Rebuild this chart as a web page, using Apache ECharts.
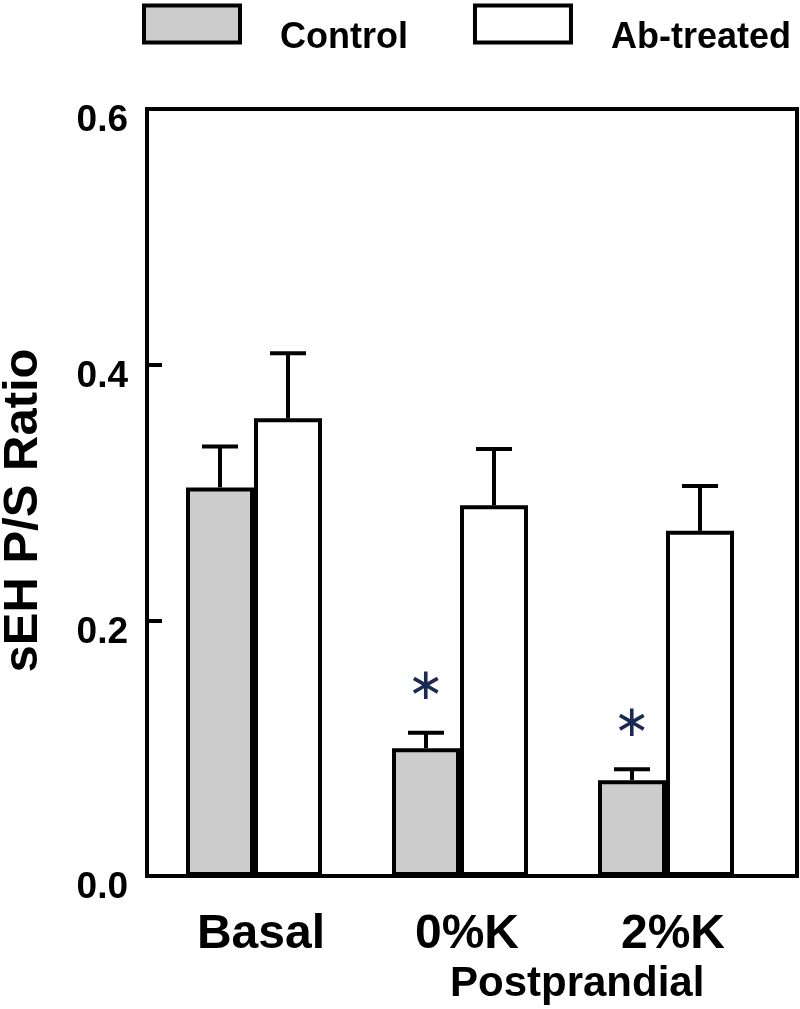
<!DOCTYPE html>
<html>
<head>
<meta charset="utf-8">
<script src="https://cdn.jsdelivr.net/npm/echarts@6/dist/echarts.min.js"></script>
<style>
html,body{margin:0;padding:0;background:#fff;}
#chart{width:800px;height:1009px;}
</style>
</head>
<body>
<div id="chart"></div>
<script>
// values
var categories = ['Basal', '0%K', '2%K'];
var controlMean = [0.304, 0.100, 0.075];
var controlErr = [0.032, 0.012, 0.0085];
var abMean = [0.358, 0.290, 0.270];
var abErr = [0.051, 0.044, 0.035];
var controlSig = [false, true, true];

var BAR_W = 68;
var CAP_W = 36;
var FONT = '"Liberation Sans", Arial, Helvetica, sans-serif';

function errorSeries(mean, err, side, sig) {
  return {
    type: 'custom',
    xAxisIndex: 1,
    yAxisIndex: 1,
    z: 5,
    silent: true,
    data: mean.map(function (v, i) {
      return [i, v, v + err[i], sig && sig[i] ? 1 : 0];
    }),
    renderItem: function (params, api) {
      var base = api.coord([api.value(0), api.value(1)]);
      var top = api.coord([api.value(0), api.value(2)]);
      var x = base[0] + side * BAR_W / 2;
      var ls = {stroke: '#000', lineWidth: 4};
      var kids = [
        {type: 'line', shape: {x1: x, y1: base[1], x2: x, y2: top[1]}, style: ls},
        {type: 'line', shape: {x1: x - CAP_W / 2, y1: top[1], x2: x + CAP_W / 2, y2: top[1]}, style: ls}
      ];
      if (api.value(3)) {
        kids.push({
          type: 'text', x: x, y: top[1] - 45,
          style: {text: '\u2217', fill: '#1b2a55', font: '44px "DejaVu Sans"', align: 'center', verticalAlign: 'middle'}
        });
      }
      return {type: 'group', children: kids};
    }
  };
}

var chart = echarts.init(document.getElementById('chart'));
var option = {
  animation: false,
  backgroundColor: '#fff',
  legend: {
    left: 142,
    top: -8,
    padding: 0,
    itemWidth: 96,
    itemHeight: 37,
    itemGap: 65,
    icon: 'rect',
    itemStyle: {borderColor: '#000', borderWidth: 4},
    formatter: '{t|{name}}',
    textStyle: {
      rich: {
        t: {fontFamily: FONT, fontSize: 36, fontWeight: 'bold', color: '#000', lineHeight: 36, padding: [28, 0, 0, 35]}
      }
    },
    data: ['Control', 'Ab-treated']
  },
  title: {
    text: 'Postprandial',
    left: 450,
    top: 963,
    padding: 0,
    textStyle: {fontFamily: FONT, fontSize: 42, fontWeight: 'bold', color: '#000', lineHeight: 42}
  },
  grid: [
    {left: 147, right: 3, top: 109, bottom: 133, outerBoundsMode: 'none', containLabel: false,
     show: true, borderColor: '#000', borderWidth: 4, backgroundColor: 'transparent'},
    {left: 151, right: 31, top: 109, bottom: 133, outerBoundsMode: 'none', containLabel: false}
  ],
  xAxis: [
    {type: 'value', gridIndex: 0, show: false, min: 0, max: 1},
    {
      type: 'category', gridIndex: 1, data: categories,
      axisLine: {show: false}, axisTick: {show: false},
      axisLabel: {fontFamily: FONT, fontSize: 48, fontWeight: 'bold', color: '#000', margin: 35, lineHeight: 48, padding: [0, 0, 0, 14]}
    }
  ],
  yAxis: [
    {
      type: 'value', gridIndex: 0, min: 0, max: 0.6, interval: 0.2,
      name: 'sEH P/S Ratio', nameLocation: 'middle', nameGap: 99, nameRotate: 90,
      nameTextStyle: {fontFamily: FONT, fontSize: 49, fontWeight: 'bold', color: '#000', lineHeight: 49, padding: [0, 36, 0, 0]},
      splitLine: {show: false},
      axisLine: {show: false},
      axisTick: {show: true, inside: true, length: 15, lineStyle: {color: '#000', width: 4}},
      axisLabel: {
        margin: 19,
        formatter: function (v) { return '{v|' + v.toFixed(1) + '}'; },
        rich: {
          v: {fontFamily: FONT, fontSize: 37, fontWeight: 'bold', color: '#000', lineHeight: 37, padding: [24, 0, 0, 0]}
        }
      }
    },
    {type: 'value', gridIndex: 1, min: 0, max: 0.6, show: false}
  ],
  series: [
    {
      name: 'Control', type: 'bar', xAxisIndex: 1, yAxisIndex: 1,
      barWidth: BAR_W, barGap: '0%',
      itemStyle: {color: '#cccccc', borderColor: '#000', borderWidth: 4},
      data: controlMean
    },
    {
      name: 'Ab-treated', type: 'bar', xAxisIndex: 1, yAxisIndex: 1,
      barWidth: BAR_W, barGap: '0%',
      itemStyle: {color: '#ffffff', borderColor: '#000', borderWidth: 4},
      data: abMean
    },
    errorSeries(controlMean, controlErr, -1, controlSig),
    errorSeries(abMean, abErr, 1, null)
  ]
};
chart.setOption(option);
</script>
</body>
</html>
